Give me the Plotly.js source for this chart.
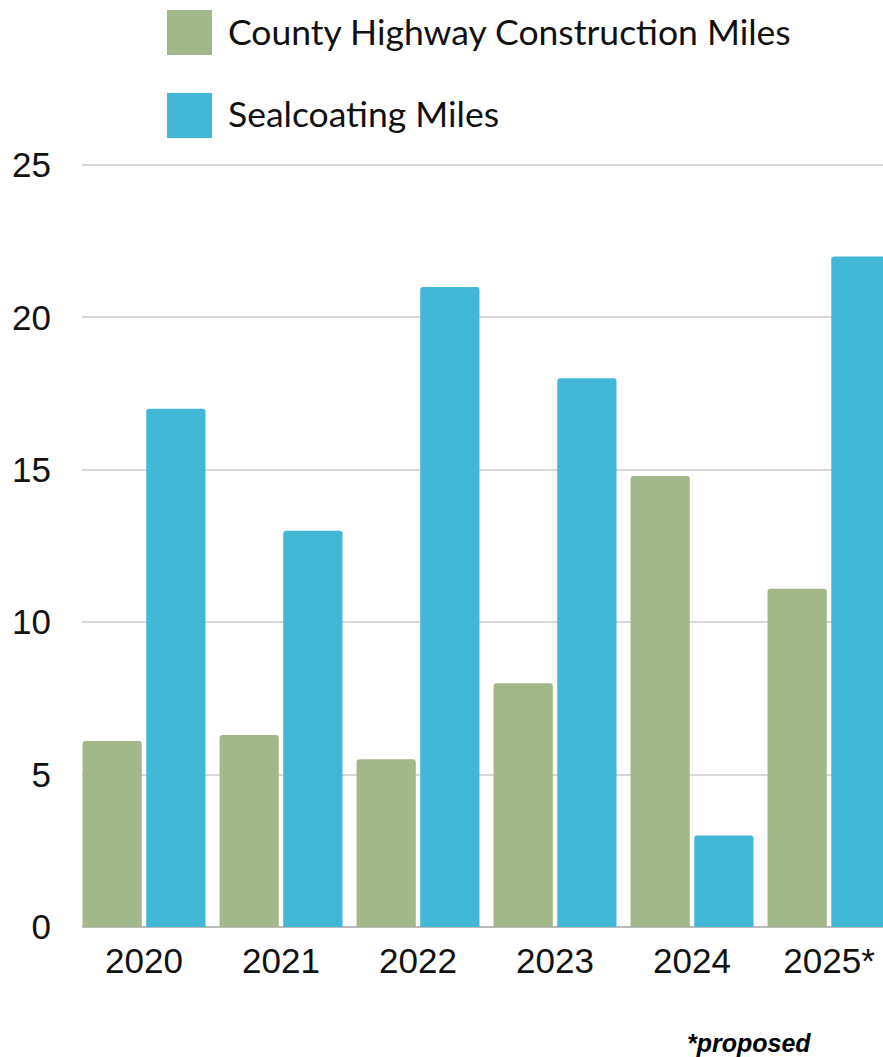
<!DOCTYPE html>
<html>
<head>
<meta charset="utf-8">
<script src="https://cdn.plot.ly/plotly-3.0.1.min.js"></script>
<style>
html,body{margin:0;padding:0;background:#fff;}
#chart{width:883px;height:1057px;}
</style>
</head>
<body>
<div id="chart"></div>
<script>
const years = ["2020", "2021", "2022", "2023", "2024", "2025*"];
const constructionMiles = [6.1, 6.3, 5.5, 8.0, 14.8, 11.1];
const sealcoatingMiles = [17, 13, 21, 18, 3, 22];
const seriesNames = ["County Highway Construction Miles", "Sealcoating Miles"];
const seriesColors = ["#A2B78A", "#42B8D6"];
const yTicks = [0, 5, 10, 15, 20, 25];
const footnote = "*proposed";

const traces = [
  {type: "bar", x: years, y: constructionMiles, name: seriesNames[0],
   marker: {color: seriesColors[0], cornerradius: 3}, hoverinfo: "skip"},
  {type: "bar", x: years, y: sealcoatingMiles, name: seriesNames[1],
   marker: {color: seriesColors[1], cornerradius: 3}, hoverinfo: "skip"}
];

// custom legend (large swatches)
const shapes = [];
const annotations = [];
const legendTop = [10, 93];
const plotH = 927 - 163;
seriesNames.forEach((n, i) => {
  shapes.push({type: "rect", xref: "paper", yref: "paper",
    x0: (167 - 82) / 801, x1: (212 - 82) / 801,
    y0: (927 - legendTop[i] - 45) / plotH, y1: (927 - legendTop[i]) / plotH,
    fillcolor: seriesColors[i], line: {width: 0}});
  annotations.push({xref: "paper", yref: "paper",
    x: (226 - 82) / 801, y: (927 - legendTop[i] - 21) / plotH,
    xanchor: "left", yanchor: "middle", showarrow: false, text: n,
    font: {family: "Lato, sans-serif", size: 35.5, color: "#111"}});
});
annotations.push({xref: "paper", yref: "paper",
  x: (749 - 82) / 801, y: (927 - 1043) / plotH, xanchor: "center", yanchor: "middle",
  showarrow: false, text: "<b><i>" + footnote + "</i></b>",
  font: {family: "Liberation Sans, Arial, sans-serif", size: 25, color: "#000"}});

const layout = {
  width: 883, height: 1057,
  margin: {l: 82, r: 0, t: 163, b: 130},
  paper_bgcolor: "#fff", plot_bgcolor: "#fff",
  showlegend: false,
  barmode: "group", bargap: 0.07, bargroupgap: 0.07,
  font: {family: "Liberation Sans, Arial, sans-serif", color: "#111"},
  xaxis: {type: "category", range: [-0.4526, 5.394], showgrid: false,
    tickfont: {size: 35, color: "#111"}, ticks: "", ticklabelstandoff: 10,
    showline: false, zeroline: false, fixedrange: true},
  yaxis: {range: [0, 25.066], tickvals: yTicks, ticktext: yTicks.map(String),
    showgrid: true, gridcolor: "#d8d8d8", gridwidth: 2,
    zeroline: true, zerolinecolor: "#bbbbbb", zerolinewidth: 2,
    tickfont: {size: 35, color: "#111"}, ticks: "", ticklabelstandoff: 30,
    showline: false, fixedrange: true},
  shapes: shapes,
  annotations: annotations
};

Plotly.newPlot("chart", traces, layout, {displayModeBar: false, staticPlot: true});
</script>
</body>
</html>
